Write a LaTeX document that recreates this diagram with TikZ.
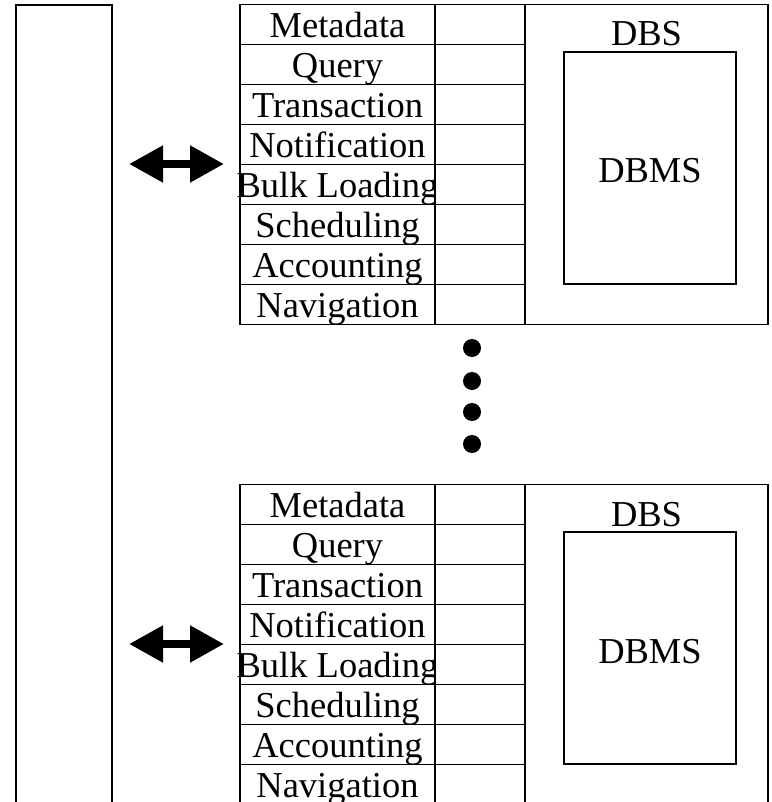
\documentclass[tikz,border=0pt]{standalone}
\usepackage{fontspec}
\setmainfont{Liberation Serif}
\usetikzlibrary{arrows.meta}
\begin{document}
\begin{tikzpicture}[x=1pt,y=-1pt,
  font=\fontsize{36.5}{40}\selectfont,
  lw/.style={line width=1.8pt},
  box/.style={draw,lw,inner sep=0pt,outer sep=0pt},
  cell/.style={box,minimum height=40pt,text height=26pt,text depth=0pt},
  namecell/.style={cell,minimum width=195pt},
  blankcell/.style={cell,minimum width=90pt,fill=white},
  dbsbox/.style={box,minimum width=243pt,minimum height=320pt},
  dbmsbox/.style={box,minimum width=172pt,minimum height=232pt,text height=30pt,text depth=0pt},
  busbox/.style={box,minimum width=96pt,minimum height=900pt,anchor=north west},
  dot/.style={circle,fill=black,inner sep=0pt,minimum size=18pt},
  bidir/.style={line width=8pt,line cap=butt,{Triangle[length=34pt,width=35pt]}-{Triangle[length=34pt,width=35pt]}}
]
\useasboundingbox (0,0) rectangle (771,802);
\clip (0,0) rectangle (771,802);

% system bus on the left
\node[busbox] (bus) at (16,5) {};

\foreach \s/\o in {u/0,l/480}{
  % function rows
  \foreach \t [count=\i] in {Metadata,Query,Transaction,Notification,Bulk Loading,Scheduling,Accounting,Navigation}{
    \node[namecell] (\s n\i) at (337.5,{24.5+40*(\i-1)+\o}) {\makebox[0pt]{\t}};
  }
  \foreach \i in {1,...,8}{
    \node[blankcell] (\s b\i) at (480,{24.5+40*(\i-1)+\o}) {};
  }
  % database system
  \node[dbsbox] (\s dbs) at (646.5,{164.5+\o}) {};
  \node[anchor=base,inner sep=0pt] (\s dbslabel) at (646.5,{46+\o}) {DBS};
  \node[dbmsbox] (\s dbms) at (650,{168+\o}) {DBMS};
  % bidirectional arrow
  \coordinate (\s a1) at (129,{164+\o});
  \coordinate (\s a2) at (224,{164+\o});
  \draw[bidir] (\s a1) -- (\s a2);
}

% ellipsis dots
\node[dot] (d1) at (472,348) {};
\node[dot] (d2) at (472,381) {};
\node[dot] (d3) at (472,412) {};
\node[dot] (d4) at (472,444) {};
\end{tikzpicture}
\end{document}
